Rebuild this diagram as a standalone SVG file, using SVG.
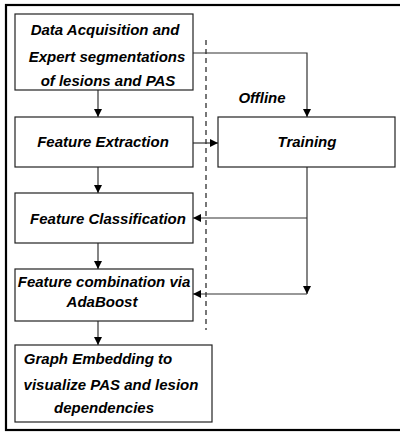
<svg xmlns="http://www.w3.org/2000/svg" width="400" height="432" viewBox="0 0 400 432">
  <style>
    .frame { fill: none; stroke: #000; stroke-width: 2.2; }
    .box { fill: #fff; stroke: #222; stroke-width: 1.2; }
    .lbl { font-family: "Liberation Sans", Arial, Helvetica, sans-serif; font-size: 15px; font-weight: bold; font-style: italic; fill: #000; text-anchor: middle; }
    .conn { fill: none; stroke: #333; stroke-width: 1.2; }
    .split { fill: none; stroke: #777; stroke-width: 2; stroke-dasharray: 5 4; }
  </style>
  <defs>
    <marker id="arrow" viewBox="0 0 10 10" refX="10" refY="5" markerWidth="8" markerHeight="8" markerUnits="userSpaceOnUse" orient="auto">
      <path d="M0,0 L10,5 L0,10 Z" fill="#000"/>
    </marker>
  </defs>

  <!-- outer frame (right side runs past the canvas) -->
  <rect class="frame" x="6" y="5" width="400" height="425"/>

  <!-- online / offline separator -->
  <line class="split" x1="206" y1="40" x2="206" y2="330"/>
  <text class="lbl" x="262" y="103">Offline</text>

  <g id="connectors">
    <line class="conn" x1="98" y1="90" x2="98" y2="117" marker-end="url(#arrow)"/>
    <line class="conn" x1="98" y1="167" x2="98" y2="193" marker-end="url(#arrow)"/>
    <line class="conn" x1="98" y1="243" x2="98" y2="269" marker-end="url(#arrow)"/>
    <line class="conn" x1="98" y1="321" x2="98" y2="345" marker-end="url(#arrow)"/>
    <polyline class="conn" points="193,53 307,53 307,117" marker-end="url(#arrow)"/>
    <line class="conn" x1="193" y1="143" x2="218" y2="143" marker-end="url(#arrow)"/>
    <line class="conn" x1="307" y1="167" x2="307" y2="294" marker-end="url(#arrow)"/>
    <line class="conn" x1="307" y1="218" x2="193" y2="218" marker-end="url(#arrow)"/>
    <line class="conn" x1="307" y1="294" x2="193" y2="294" marker-end="url(#arrow)"/>
  </g>

  <g id="acquisition">
    <rect class="box" x="15" y="14" width="178" height="76"/>
    <text class="lbl" x="105" y="35">Data Acquisition and</text>
    <text class="lbl" x="107" y="62">Expert segmentations</text>
    <text class="lbl" x="108" y="86">of lesions and PAS</text>
  </g>

  <g id="extraction">
    <rect class="box" x="15" y="117" width="178" height="50"/>
    <text class="lbl" x="103" y="147">Feature Extraction</text>
  </g>

  <g id="training">
    <rect class="box" x="218" y="117" width="177" height="50"/>
    <text class="lbl" x="307" y="147">Training</text>
  </g>

  <g id="classification">
    <rect class="box" x="15" y="193" width="178" height="50"/>
    <text class="lbl" x="108" y="224">Feature Classification</text>
  </g>

  <g id="combination">
    <rect class="box" x="15" y="269" width="178" height="52"/>
    <text class="lbl" x="104" y="287">Feature combination via</text>
    <text class="lbl" x="102" y="307">AdaBoost</text>
  </g>

  <g id="embedding">
    <rect class="box" x="15" y="345" width="197" height="77"/>
    <text class="lbl" x="98" y="364">Graph Embedding to</text>
    <text class="lbl" x="111" y="390">visualize PAS and lesion</text>
    <text class="lbl" x="104" y="413">dependencies</text>
  </g>
</svg>
